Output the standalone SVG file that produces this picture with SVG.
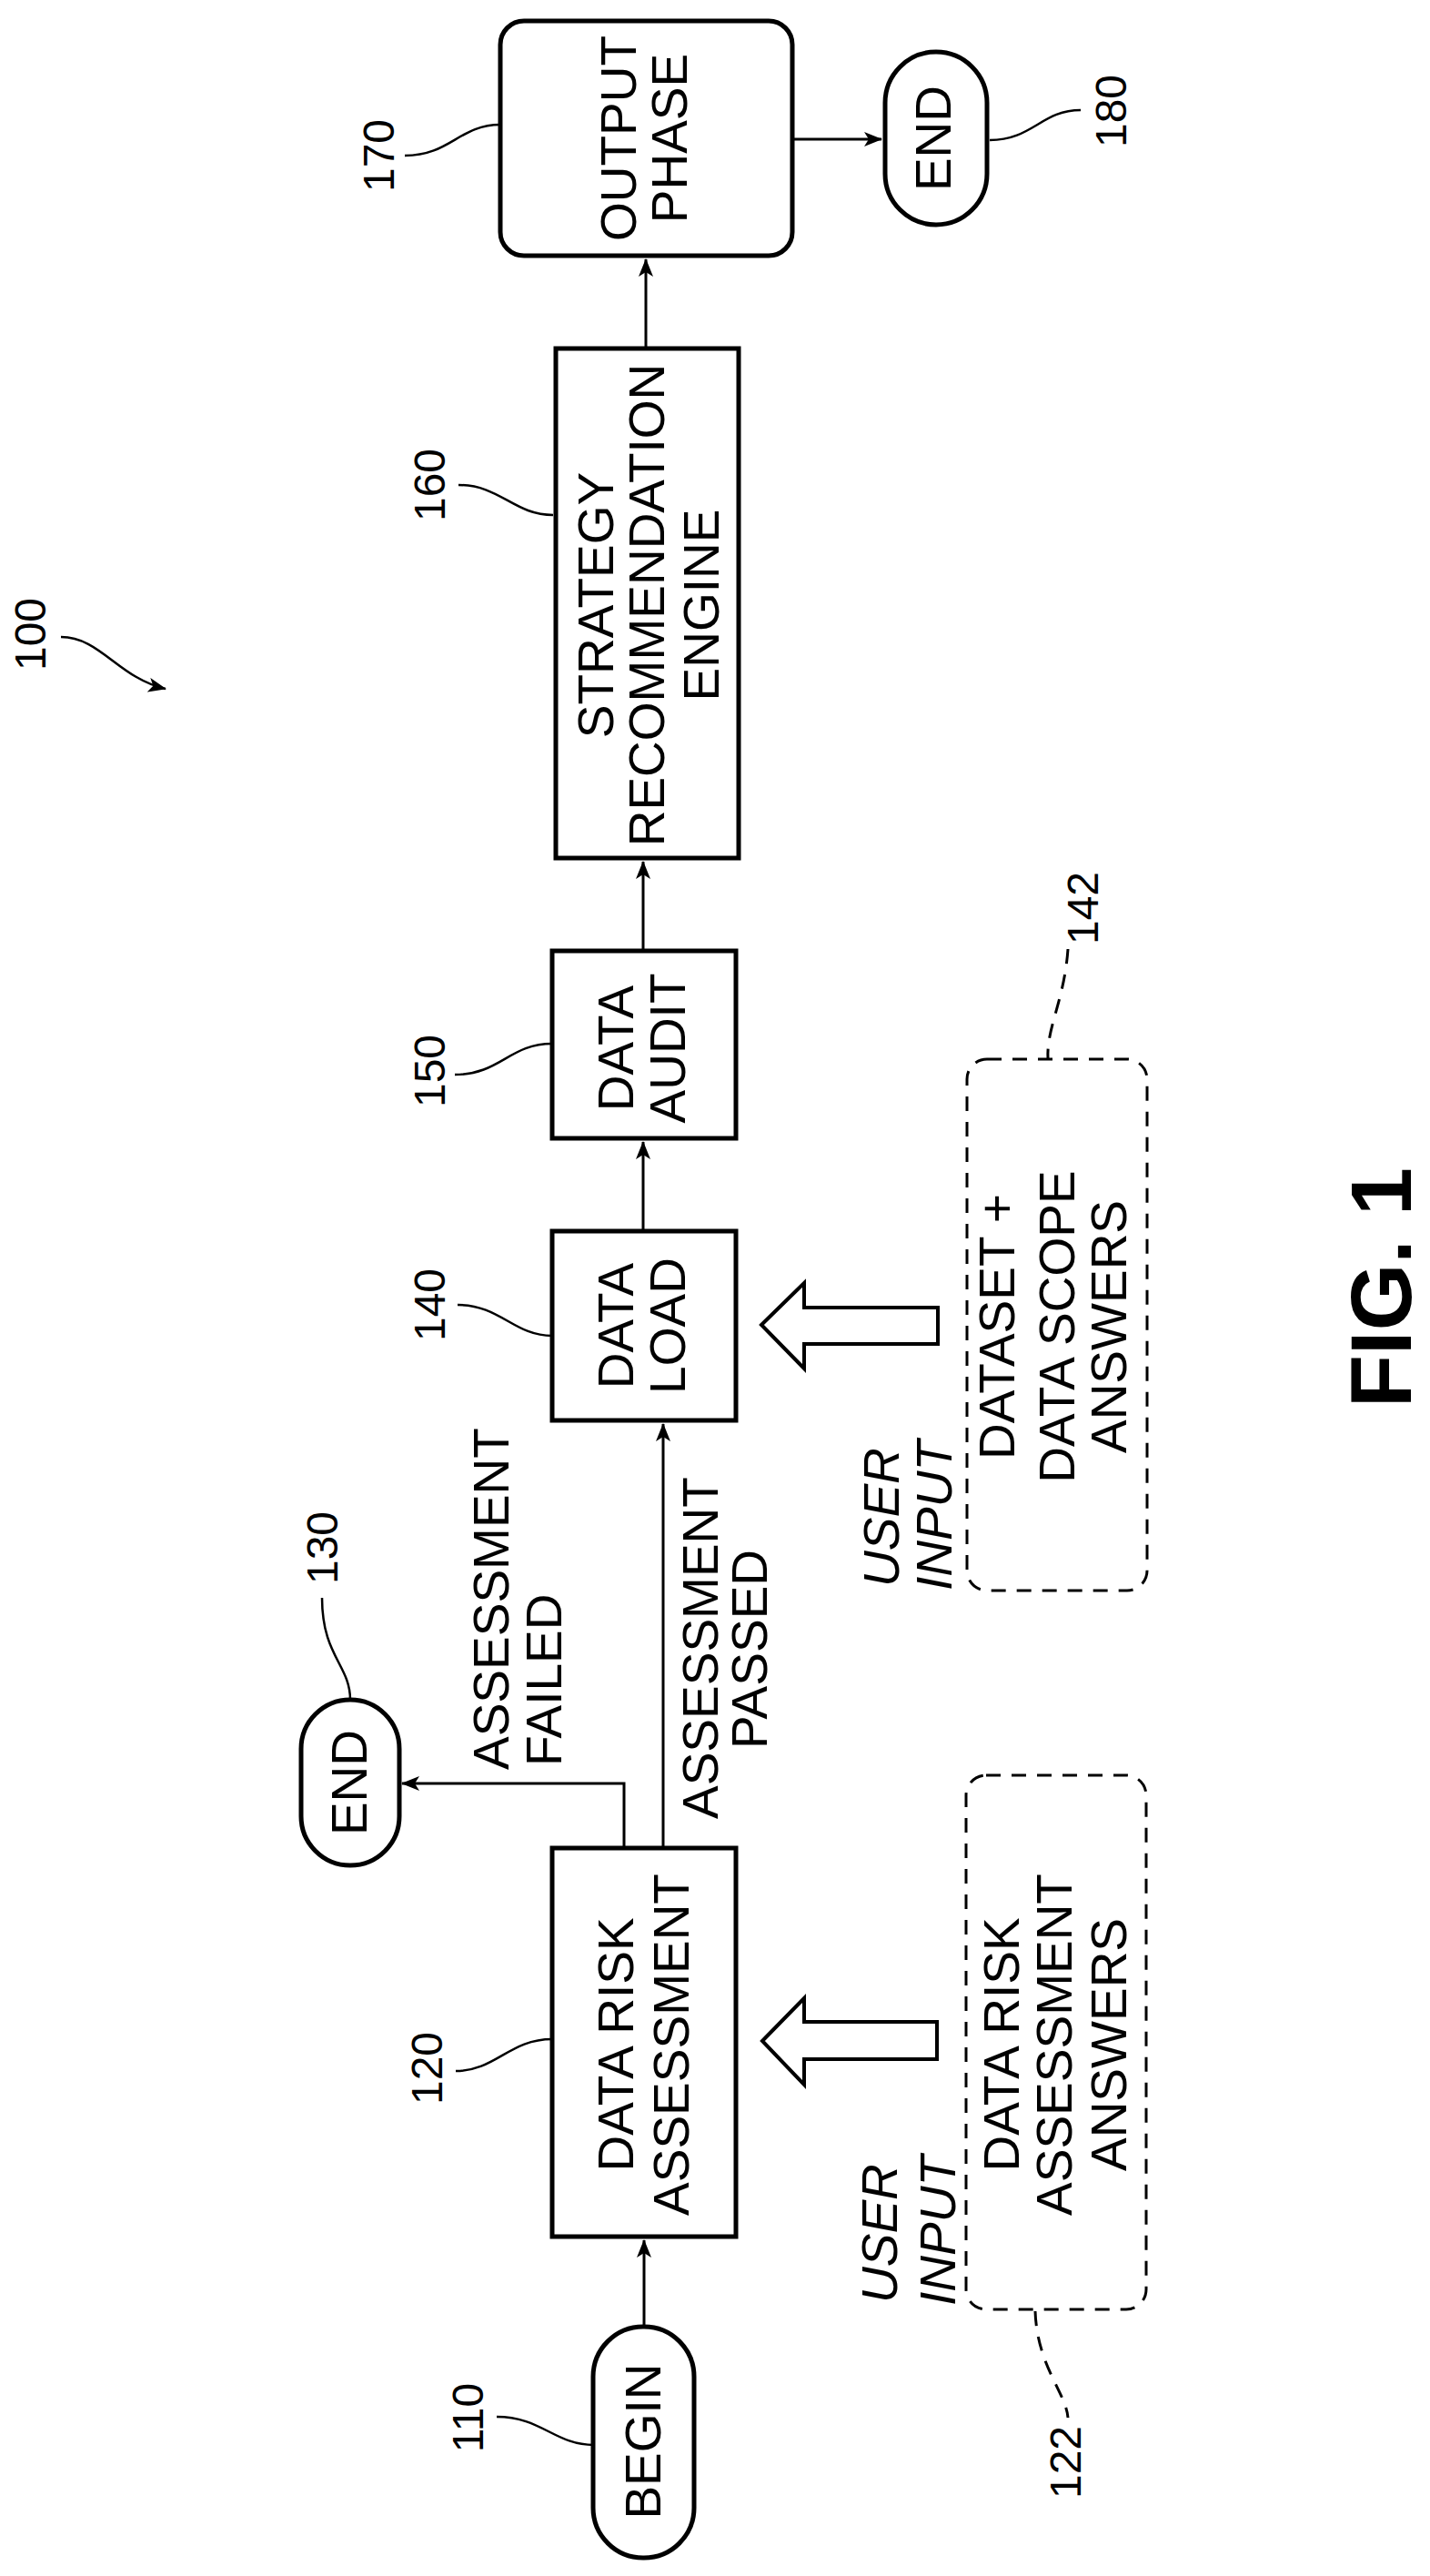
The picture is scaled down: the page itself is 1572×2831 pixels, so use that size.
<svg xmlns="http://www.w3.org/2000/svg" width="1572" height="2831" viewBox="0 0 1572 2831">
<style>
text{font-family:"Liberation Sans",Arial,sans-serif;fill:#000}
.n{font-size:55px;text-anchor:middle}
.l{font-size:48px;text-anchor:middle}
.s{font-size:55px;text-anchor:start}
.i{font-size:55px;text-anchor:start;font-style:italic}
.box{fill:#fff;stroke:#000;stroke-width:5}
.dash{fill:none;stroke:#000;stroke-width:3;stroke-dasharray:16 12}
.c{fill:none;stroke:#000;stroke-width:3}
.ld{fill:none;stroke:#000;stroke-width:2.5}
.blk{fill:#fff;stroke:#000;stroke-width:4;stroke-linejoin:miter}
</style>
<defs>
<marker id="ah" viewBox="0 0 20 16" refX="19" refY="8" markerWidth="20" markerHeight="16" markerUnits="userSpaceOnUse" orient="auto">
<path d="M0,0 L20,8 L0,16 L5,8 Z" fill="#000"/>
</marker>
</defs>
<g id="connectors">
<path class="c" d="M708,2557 V2462" marker-end="url(#ah)"/>
<path class="c" d="M686,2031 V1960 H442" marker-end="url(#ah)"/>
<path class="c" d="M729,2031 V1565" marker-end="url(#ah)"/>
<path class="c" d="M707,1353 V1255" marker-end="url(#ah)"/>
<path class="c" d="M707,1045 V947" marker-end="url(#ah)"/>
<path class="c" d="M710,383 V285" marker-end="url(#ah)"/>
<path class="c" d="M871,153 H969" marker-end="url(#ah)"/>
<polygon class="blk" points="837,1456 884,1410 884,1437 1031,1437 1031,1477 884,1477 884,1504"/>
<polygon class="blk" points="838,2243 884,2196 884,2222 1030,2222 1030,2263 884,2263 884,2291"/>
<path class="ld" d="M67,700 C110,700 130,745 182,757" marker-end="url(#ah)"/>
<path class="ld" d="M445,171 C495,171 505,137 550,137"/>
<path class="ld" d="M504,533 C550,533 565,566 608,566"/>
<path class="ld" d="M500,1181 C550,1181 560,1147 607,1147"/>
<path class="ld" d="M503,1434 C550,1434 565,1468 607,1468"/>
<path class="ld" d="M354,1756 C354,1820 385,1830 385,1868"/>
<path class="ld" d="M501,2276 C545,2276 560,2241 607,2241"/>
<path class="ld" d="M546,2656 C595,2656 610,2687 653,2687"/>
<path class="ld" d="M1088,154 C1135,154 1145,121 1188,121"/>
<path class="dash" d="M1174,1043 C1170,1100 1150,1130 1152,1164" stroke-dasharray="14 12"/>
<path class="dash" d="M1138,2540 C1140,2600 1172,2630 1174,2657" stroke-dasharray="14 12"/>
</g>
<g id="n100"><text class="l" transform="translate(50,697) rotate(-90)">100</text></g>
<g id="n110">
<rect class="box" x="652" y="2557" width="111" height="254" rx="55"/>
<text class="n" transform="translate(726,2683) rotate(-90)">BEGIN</text>
<text class="l" transform="translate(531,2657) rotate(-90)">110</text>
</g>
<g id="n120">
<rect class="box" x="607" y="2031" width="202" height="427"/>
<text class="n" transform="translate(696,2247) rotate(-90)">DATA RISK</text>
<text class="n" transform="translate(757,2247) rotate(-90)">ASSESSMENT</text>
<text class="l" transform="translate(486,2273) rotate(-90)">120</text>
</g>
<g id="n122">
<rect class="dash" x="1062" y="1951" width="198" height="587" rx="22"/>
<text class="n" transform="translate(1120,2247) rotate(-90)">DATA RISK</text>
<text class="n" transform="translate(1178,2247) rotate(-90)">ASSESSMENT</text>
<text class="n" transform="translate(1238,2247) rotate(-90)">ANSWERS</text>
<text class="i" transform="translate(986,2531) rotate(-90)">USER</text>
<text class="i" transform="translate(1050,2534) rotate(-90)">INPUT</text>
<text class="l" transform="translate(1188,2706) rotate(-90)">122</text>
</g>
<g id="n130">
<rect class="box" x="331" y="1868" width="108" height="182" rx="54"/>
<text class="n" transform="translate(403,1959) rotate(-90)">END</text>
<text class="l" transform="translate(371,1701) rotate(-90)">130</text>
</g>
<g id="labels-assessment">
<text class="s" transform="translate(559,1945) rotate(-90)">ASSESSMENT</text>
<text class="s" transform="translate(617,1941) rotate(-90)">FAILED</text>
<text class="s" transform="translate(789,1999) rotate(-90)">ASSESSMENT</text>
<text class="s" transform="translate(843,1922) rotate(-90)">PASSED</text>
</g>
<g id="n140">
<rect class="box" x="607" y="1353" width="202" height="208"/>
<text class="n" transform="translate(696,1457) rotate(-90)">DATA</text>
<text class="n" transform="translate(753,1457) rotate(-90)">LOAD</text>
<text class="l" transform="translate(489,1434) rotate(-90)">140</text>
</g>
<g id="n142">
<rect class="dash" x="1063" y="1164" width="198" height="584" rx="22"/>
<text class="n" transform="translate(1115,1458) rotate(-90)">DATASET +</text>
<text class="n" transform="translate(1181,1458) rotate(-90)">DATA SCOPE</text>
<text class="n" transform="translate(1238,1458) rotate(-90)">ANSWERS</text>
<text class="i" transform="translate(988,1744) rotate(-90)">USER</text>
<text class="i" transform="translate(1046,1748) rotate(-90)">INPUT</text>
<text class="l" transform="translate(1207,998) rotate(-90)">142</text>
</g>
<g id="n150">
<rect class="box" x="607" y="1045" width="202" height="206"/>
<text class="n" transform="translate(696,1152) rotate(-90)">DATA</text>
<text class="n" transform="translate(753,1152) rotate(-90)">AUDIT</text>
<text class="l" transform="translate(489,1177) rotate(-90)">150</text>
</g>
<g id="n160">
<rect class="box" x="611" y="383" width="201" height="560"/>
<text class="n" transform="translate(674,665) rotate(-90)">STRATEGY</text>
<text class="n" transform="translate(730,665) rotate(-90)">RECOMMENDATION</text>
<text class="n" transform="translate(790,665) rotate(-90)">ENGINE</text>
<text class="l" transform="translate(489,533) rotate(-90)">160</text>
</g>
<g id="n170">
<rect class="box" x="550" y="23" width="321" height="258" rx="26"/>
<text class="n" transform="translate(699,152) rotate(-90)">OUTPUT</text>
<text class="n" transform="translate(755,152) rotate(-90)">PHASE</text>
<text class="l" transform="translate(433,171) rotate(-90)">170</text>
</g>
<g id="n180">
<rect class="box" x="973" y="57" width="112" height="190" rx="56"/>
<text class="n" transform="translate(1045,152) rotate(-90)">END</text>
<text class="l" transform="translate(1238,122) rotate(-90)">180</text>
</g>
<g id="fig"><text transform="translate(1551,1547) rotate(-90)" style="font-size:95px;font-weight:bold;text-anchor:start">FIG. 1</text></g>
</svg>
